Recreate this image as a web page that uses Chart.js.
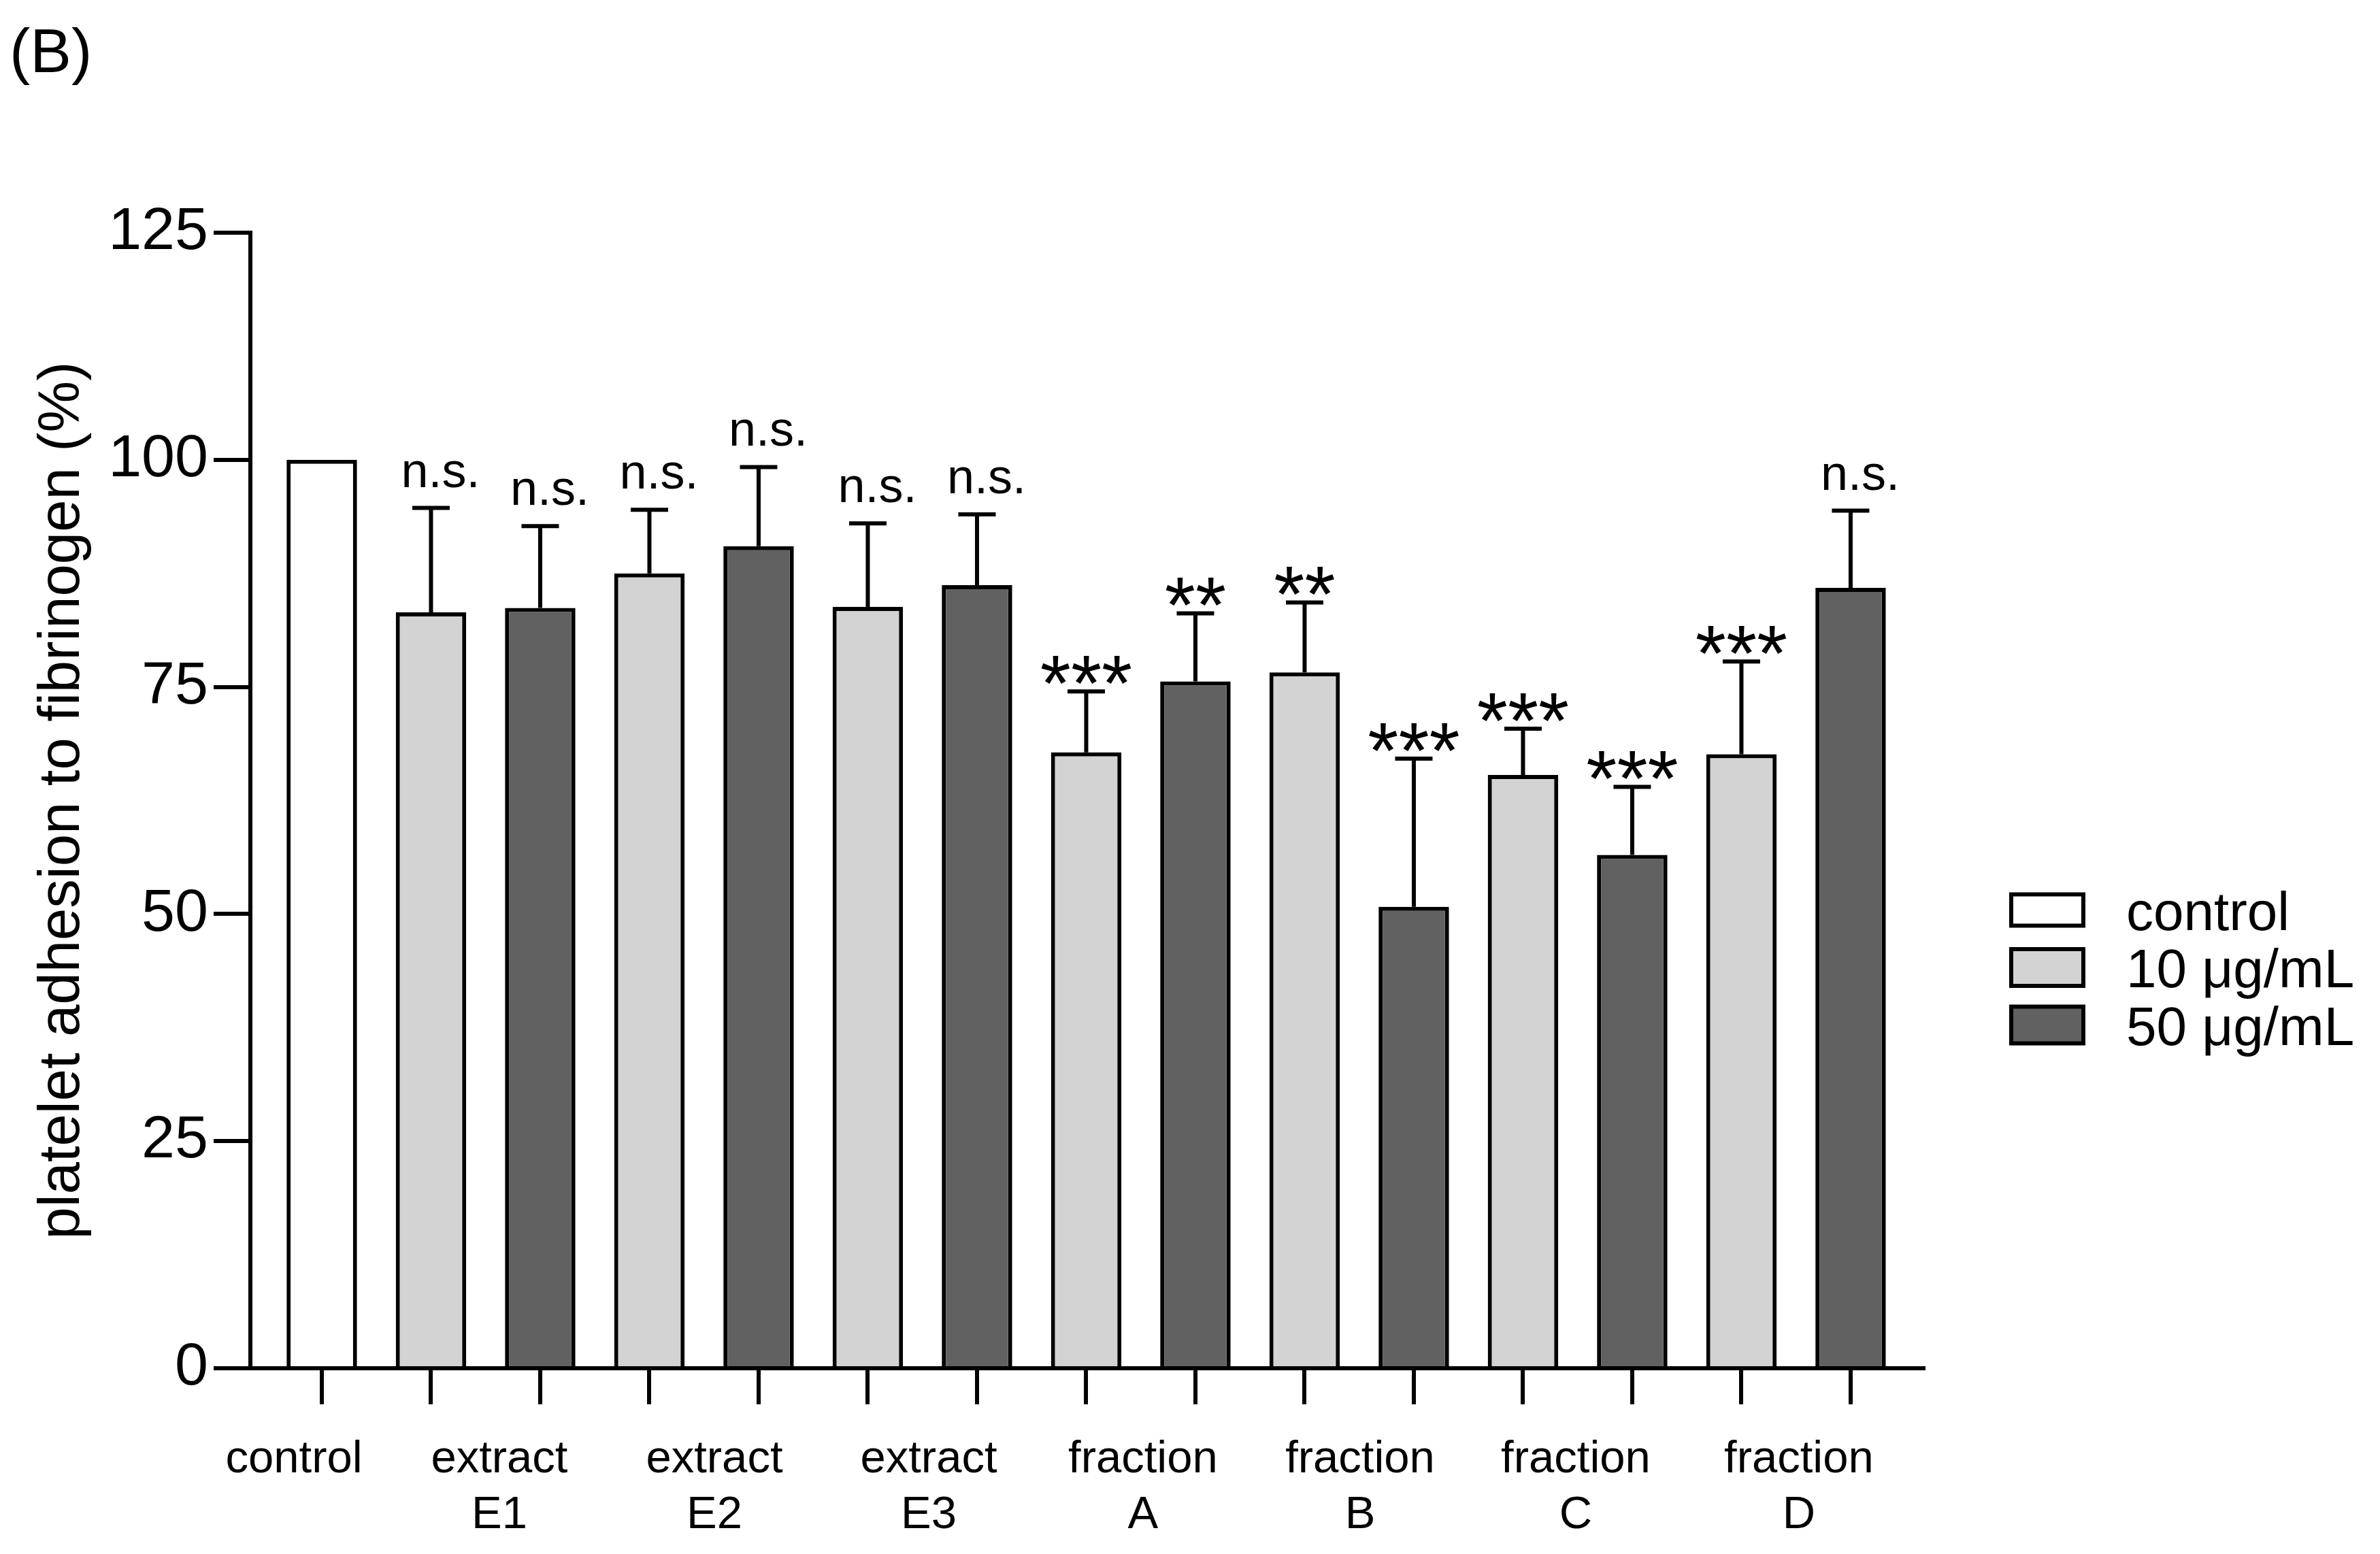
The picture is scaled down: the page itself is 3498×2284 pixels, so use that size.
<!DOCTYPE html>
<html><head><meta charset="utf-8">
<script src="https://cdn.jsdelivr.net/npm/chart.js@4.4.1/dist/chart.umd.min.js"></script>
<style>html,body{margin:0;padding:0;background:#fff;} canvas{display:block;}</style>
</head><body>
<canvas id="c" width="3498" height="2284" style="width:3498px;height:2284px"></canvas>
<script>
// ---------- data ----------
const controlLabel = 'control';
const groupLabels = [['extract','E1'],['extract','E2'],['extract','E3'],['fraction','A'],['fraction','B'],['fraction','C'],['fraction','D']];
const seriesNames = ['control', '10 \u03bcg/mL', '50 \u03bcg/mL'];
const controlValues = [100];
const values10 = [83.2, 87.5, 83.8, 67.8, 76.6, 65.3, 67.6];
const errors10 = [11.5, 7.0, 9.2, 6.7, 7.7, 5.1, 10.2];
const sig10 = ['n.s.', 'n.s.', 'n.s.', '***', '**', '***', '***'];
const values50 = [83.7, 90.5, 86.2, 75.6, 50.8, 56.5, 85.9];
const errors50 = [9.0, 8.7, 7.8, 7.5, 16.3, 7.5, 8.5];
const sig50 = ['n.s.', 'n.s.', 'n.s.', '**', '***', '***', 'n.s.'];
const yTickStep = 25;
const yMax = 125;
const yTitle = 'platelet adhesion to fibrinogen (%)';
const panelTitle = '(B)';

// ---------- layout helpers ----------
const labelNudge = [-0.255, 0.126, 0.095, 0.058, 0.02, 0.008, -0.017, 0.026];
const pos10 = values10.map((_, g) => 1 + 2 * g);
const pos50 = values50.map((_, g) => 2 + 2 * g);
const barPositions = [0, ...pos10, ...pos50].sort((a, b) => a - b);
const labelPositions = [0 + labelNudge[0], ...groupLabels.map((_, g) => 1.5 + 2 * g + labelNudge[g + 1])];
const xLabels = [controlLabel, ...groupLabels];

const FONT = "'Liberation Sans', Arial, Helvetica, sans-serif";
Chart.defaults.font.family = FONT;
Chart.defaults.color = '#000';

const errorBars = {
  id: 'errorBars',
  afterDatasetsDraw(chart, args, o) {
    const ctx = chart.ctx;
    const ys = chart.scales.y;
    ctx.save();
    chart.data.datasets.forEach((ds, di) => {
      if (!ds.errors) return;
      const meta = chart.getDatasetMeta(di);
      meta.data.forEach((bar, j) => {
        const v = ds.data[j].y, e = ds.errors[j];
        const x = bar.x;
        const y0 = ys.getPixelForValue(v);
        const y1 = ys.getPixelForValue(v + e);
        ctx.strokeStyle = '#000';
        ctx.lineWidth = o.lineWidth;
        ctx.lineCap = 'butt';
        ctx.beginPath();
        ctx.moveTo(x, y0);
        ctx.lineTo(x, y1);
        ctx.moveTo(x - o.capWidth / 2, y1);
        ctx.lineTo(x + o.capWidth / 2, y1);
        ctx.stroke();
        const s = ds.sig[j];
        ctx.fillStyle = '#000';
        ctx.textAlign = 'center';
        ctx.textBaseline = 'alphabetic';
        if (s === 'n.s.') {
          ctx.font = o.nsFont + 'px ' + FONT;
          ctx.fillText(s, x + o.nsShift, y1 - o.nsGap);
        } else {
          ctx.font = o.starFont + 'px ' + FONT;
          ctx.fillText(s, x, y1 + o.starDrop);
        }
      });
    });
    ctx.restore();
  }
};

const sideLegend = {
  id: 'sideLegend',
  afterDraw(chart, args, o) {
    const ctx = chart.ctx;
    ctx.save();
    chart.data.datasets.forEach((ds, i) => {
      const cy = o.firstCenter + i * o.pitch;
      const h = o.boxHeights[i];
      ctx.fillStyle = ds.backgroundColor;
      ctx.fillRect(o.boxLeft, cy - h / 2, o.boxWidth, h);
      ctx.strokeStyle = '#000';
      ctx.lineWidth = o.boxLine;
      ctx.strokeRect(o.boxLeft, cy - h / 2, o.boxWidth, h);
      ctx.fillStyle = '#000';
      ctx.font = o.fontSize + 'px ' + FONT;
      ctx.textAlign = 'left';
      ctx.textBaseline = 'alphabetic';
      ctx.fillText(ds.label, o.textLeft, cy + o.baselineShift);
    });
    ctx.restore();
  }
};

const barStyle = { borderColor: '#000', borderWidth: 6, grouped: false, barPercentage: 0.645, categoryPercentage: 1.0 };

new Chart(document.getElementById('c'), {
  type: 'bar',
  data: {
    datasets: [
      Object.assign({ label: seriesNames[0], data: controlValues.map((v) => ({ x: 0, y: v })), backgroundColor: '#ffffff' }, barStyle),
      Object.assign({ label: seriesNames[1], data: values10.map((v, g) => ({ x: pos10[g], y: v })), errors: errors10, sig: sig10, backgroundColor: '#d3d3d3' }, barStyle),
      Object.assign({ label: seriesNames[2], data: values50.map((v, g) => ({ x: pos50[g], y: v })), errors: errors50, sig: sig50, backgroundColor: '#616161' }, barStyle)
    ]
  },
  plugins: [errorBars, sideLegend],
  options: {
    responsive: false,
    animation: false,
    devicePixelRatio: 1,
    layout: { padding: { left: 14, right: 671, top: 0, bottom: 0 } },
    plugins: {
      legend: { display: false },
      tooltip: { enabled: false },
      title: {
        display: true, text: panelTitle, align: 'start', position: 'top',
        font: { size: 91, weight: 'normal', lineHeight: 1.2 }, color: '#000',
        padding: { top: 26, bottom: 206.8 }
      },
      errorBars: { capWidth: 55, lineWidth: 6, nsFont: 72, starFont: 116, nsGap: 31, starDrop: 29, nsShift: 14 },
      sideLegend: { boxLeft: 2956, boxWidth: 106, boxHeights: [46, 54, 54], boxLine: 6, firstCenter: 1337.5, pitch: 84.5, textLeft: 3125, baselineShift: 29, fontSize: 80 }
    },
    scales: {
      x: {
        type: 'linear', position: 'bottom', min: -0.654, max: 14.667, bounds: 'data', weight: 0, offset: false,
        afterBuildTicks: (s) => { s.ticks = barPositions.map((v) => ({ value: v })); },
        afterFit: (s) => { s.height = 53; },
        ticks: { display: false, autoSkip: false },
        grid: { offset: false, drawOnChartArea: false, drawTicks: true, tickLength: 53, tickWidth: 6, lineWidth: 6, tickColor: '#000', color: '#000' },
        border: { display: true, color: '#000', width: 6, z: 1 }
      },
      x2: {
        type: 'linear', axis: 'x', position: 'bottom', min: -0.654, max: 14.667, bounds: 'data', weight: 1, offset: false,
        afterBuildTicks: (s) => { s.ticks = labelPositions.map((v) => ({ value: v })); },
        afterFit: (s) => { s.height = 220; },
        ticks: {
          autoSkip: false, maxRotation: 0, minRotation: 0, padding: 41, color: '#000',
          font: { size: 67, lineHeight: 1.22 },
          callback: (value, index) => xLabels[index]
        },
        grid: { offset: false, display: false, drawTicks: false, tickLength: 0 },
        border: { display: false }
      },
      y: {
        type: 'linear', min: 0, max: yMax,
        afterFit: (s) => { s.width = 354; },
        ticks: { stepSize: yTickStep, padding: 8, color: '#000', font: { size: 88 } },
        grid: { drawOnChartArea: false, drawTicks: true, tickLength: 54, tickWidth: 6, lineWidth: 6, tickColor: '#000', color: '#000' },
        border: { display: true, color: '#000', width: 6, z: 1 },
        title: { display: true, text: yTitle, color: '#000', font: { size: 85, lineHeight: 1.2 }, padding: { top: 28, bottom: 0 } }
      }
    }
  }
});
</script>
</body></html>
